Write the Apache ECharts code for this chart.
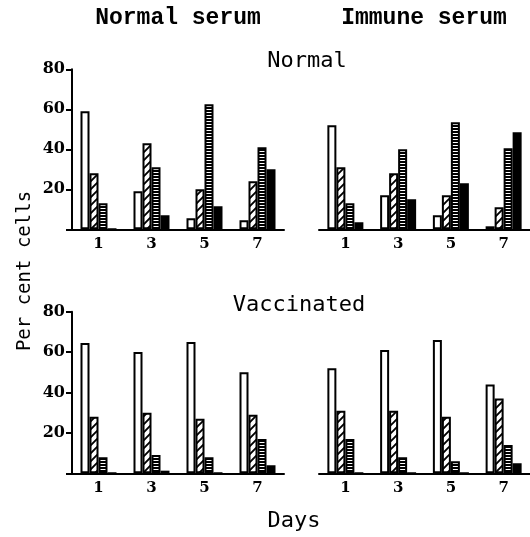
<!DOCTYPE html>
<html><head><meta charset="utf-8">
<script src="https://cdn.jsdelivr.net/npm/echarts@6/dist/echarts.min.js"></script>
<style>html,body{margin:0;padding:0;background:#fff}#c{width:530px;height:537px}</style>
</head><body><div id="c"></div>
<script>
// ---- data ----
const days = ['1', '3', '5', '7'];
const yMax = 80, yStep = 20;

// Normal serum / Normal cells
const nsNormOpen    = [59, 19, 5.5, 4.5];
const nsNormHatched = [28, 43, 20, 24];
const nsNormStriped = [13, 31, 62.5, 41];
const nsNormSolid   = [0, 7, 11.5, 30];

// Immune serum / Normal cells
const isNormOpen    = [52, 17, 7, 1.5];
const isNormHatched = [31, 28, 17, 11];
const isNormStriped = [13, 40, 53.5, 40.5];
const isNormSolid   = [3.5, 15, 23, 48.5];

// Normal serum / Vaccinated
const nsVacOpen    = [64.5, 60, 65, 50];
const nsVacHatched = [28, 30, 27, 29];
const nsVacStriped = [8, 9, 8, 17];
const nsVacSolid   = [0, 1.3, 0, 4];

// Immune serum / Vaccinated
const isVacOpen    = [52, 61, 66, 44];
const isVacHatched = [31, 31, 28, 37];
const isVacStriped = [17, 8, 6, 14];
const isVacSolid   = [0, 0, 0, 5];

// ---- fills ----
function hatchCanvas() {
  const c = document.createElement('canvas'); c.width = 8; c.height = 8;
  const g = c.getContext('2d');
  g.fillStyle = '#fff'; g.fillRect(0, 0, 8, 8);
  g.strokeStyle = '#000'; g.lineWidth = 1.9; g.beginPath();
  g.moveTo(-1, 9); g.lineTo(9, -1);
  g.moveTo(-1, 1); g.lineTo(1, -1);
  g.moveTo(7, 9); g.lineTo(9, 7);
  g.stroke();
  return c;
}
function stripeCanvas() {
  const c = document.createElement('canvas'); c.width = 4; c.height = 3;
  const g = c.getContext('2d');
  g.fillStyle = '#000'; g.fillRect(0, 0, 4, 3);
  g.fillStyle = '#fff'; g.fillRect(0, 1, 4, 1);
  return c;
}
const fills = [
  '#fff',
  { image: hatchCanvas(), repeat: 'repeat' },
  { image: stripeCanvas(), repeat: 'repeat' },
  '#000'
];

const panels = [
  [nsNormOpen, nsNormHatched, nsNormStriped, nsNormSolid],
  [isNormOpen, isNormHatched, isNormStriped, isNormSolid],
  [nsVacOpen, nsVacHatched, nsVacStriped, nsVacSolid],
  [isVacOpen, isVacHatched, isVacStriped, isVacSolid]
];

const FONT = '"Liberation Mono", "DejaVu Sans Mono", monospace';
const FONT2 = '"DejaVu Sans Mono", monospace';
const grids = [
  { left: 72, top: 69.3, width: 212, height: 160 },
  { left: 319, top: 69.3, width: 212, height: 160 },
  { left: 72, top: 311.7, width: 212, height: 161.6 },
  { left: 319, top: 311.7, width: 212, height: 161.6 }
];

const xAxes = grids.map((g, i) => ({
  type: 'category', gridIndex: i, data: days,
  axisLine: { lineStyle: { color: '#000', width: 2 } },
  axisTick: { show: false },
  axisLabel: { color: '#000', fontFamily: 'DejaVu Serif', fontWeight: 'bold', fontSize: 15, margin: 7 }
}));
const yAxes = grids.map((g, i) => {
  const left = (i % 2 === 0);
  return {
    type: 'value', gridIndex: i, min: 0, max: yMax, interval: yStep,
    show: left,
    splitLine: { show: false },
    axisLine: { show: true, lineStyle: { color: '#000', width: 2 } },
    axisTick: { show: true, length: 6, lineStyle: { color: '#000', width: 2 } },
    axisLabel: {
      color: '#000', fontFamily: 'DejaVu Serif', fontWeight: 'bold', fontSize: 16, margin: 7,
      formatter: v => (v === 0 ? '' : String(v))
    }
  };
});

const series = [];
panels.forEach((arrs, gi) => {
  arrs.forEach((arr, k) => {
    series.push({
      type: 'bar', xAxisIndex: gi, yAxisIndex: gi, data: arr,
      barWidth: 9, barGap: '0%',
      itemStyle: { color: fills[k], borderColor: '#000', borderWidth: 2 },
      emphasis: { disabled: true }
    });
  });
});

const txt = (text, x, y, font, extra) => Object.assign({
  type: 'text', x: x, y: y,
  style: { text: text, fill: '#000', font: font, textAlign: 'center', textVerticalAlign: 'middle' }
}, extra || {});

const option = {
  animation: false,
  backgroundColor: '#fff',
  grid: grids,
  xAxis: xAxes,
  yAxis: yAxes,
  series: series,
  graphic: [
    txt('Normal serum', 178, 18, 'bold 23px ' + FONT),
    txt('Immune serum', 424, 18, 'bold 23px ' + FONT),
    txt('Normal', 307, 61, '22px ' + FONT2),
    txt('Vaccinated', 299, 305, '22px ' + FONT2),
    txt('Days', 294, 521, '22px ' + FONT2),
    txt('Per cent cells', 25, 271, '19px ' + FONT2, { rotation: Math.PI / 2 })
  ]
};
const chart = echarts.init(document.getElementById('c'), null, { renderer: 'canvas' });
chart.setOption(option);
</script></body></html>
